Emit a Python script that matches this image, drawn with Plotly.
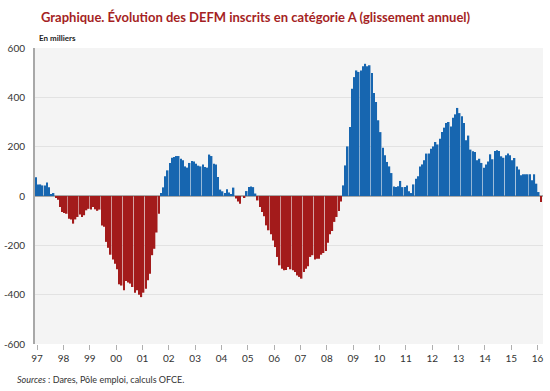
import plotly.graph_objects as go

# Monthly year-on-year change of category A jobseekers (thousands), Jan 1997 onwards
values = [
    76, 47, 47, 43, 43, 55, 35, 7, 12, -5,
    -15, -45, -65, -69, -72, -92, -95, -112, -95, -85,
    -75, -85, -78, -58, -52, -55, -45, -54, -60, -55,
    -120, -125, -186, -210, -238, -257, -275, -297, -358, -363,
    -382, -345, -351, -355, -369, -392, -382, -400, -410, -392,
    -376, -342, -315, -240, -214, -148, -72, 12, 35, 80,
    104, 134, 155, 158, 162, 162, 151, 145, 120, 115,
    134, 142, 140, 131, 123, 120, 128, 118, 115, 168,
    162, 131, 128, 77, 26, 19, 12, 27, 14, 5,
    34, -10, -22, -31, 0, -8, 20, 36, 39, 36,
    10, -18, -45, -65, -82, -119, -139, -155, -180, -207,
    -247, -281, -295, -301, -300, -288, -297, -301, -308, -322,
    -328, -335, -308, -295, -285, -247, -240, -257, -254, -254,
    -238, -231, -223, -190, -155, -142, -105, -85, -61, -22,
    43, 124, 201, 280, 435, 482, 509, 503, 509, 526,
    536, 526, 530, 499, 418, 381, 307, 259, 196, 165,
    138, 120, 93, 39, 36, 40, 61, 36, 36, 43,
    19, 12, 47, 70, 80, 120, 128, 145, 172, 172,
    192, 201, 219, 209, 232, 259, 277, 296, 300, 282,
    317, 331, 357, 336, 323, 296, 226, 245, 188, 181,
    178, 145, 151, 134, 115, 128, 140, 169, 149, 182,
    185, 182, 161, 155, 165, 172, 165, 145, 154, 120,
    107, 84, 88, 88, 88, 88, 64, 88, 50, 16,
    -24,
]
year_labels = ["97", "98", "99", "00", "01", "02", "03", "04", "05", "06",
               "07", "08", "09", "10", "11", "12", "13", "14", "15", "16"]
y_ticks = [-600, -400, -200, 0, 200, 400, 600]

BLUE = "#1766b0"
RED = "#a31b1b"

months = list(range(len(values)))
colors = [BLUE if v >= 0 else RED for v in values]

W, H = 550, 391
L, R, T, B = 35, 7, 48, 47
pw, ph = W - L - R, H - T - B


def px(x):
    return (x - L) / pw


def py(y):
    return (H - B - y) / ph


fig = go.Figure(go.Bar(x=months, y=values, marker=dict(color=colors, line=dict(width=0)),
                       hoverinfo="x+y"))

fig.update_layout(
    width=W, height=H,
    margin=dict(l=L, r=R, t=T, b=B, autoexpand=False),
    paper_bgcolor="white",
    plot_bgcolor="#f4f4f4",
    bargap=0.3,
    showlegend=False,
    font=dict(family="Lato, Open Sans, sans-serif", color="#333333"),
    xaxis=dict(
        range=[-0.46, 230.95],
        tickvals=[12 * k + 0.5 for k in range(len(year_labels))],
        ticktext=year_labels,
        ticks="outside", ticklen=5, tickcolor="#b0b0b0", tickwidth=1,
        showgrid=False, zeroline=False, showline=False, automargin=False,
        tickfont=dict(size=10, color="#333333"),
    ),
    yaxis=dict(
        range=[-600, 600],
        tickvals=y_ticks,
        ticktext=[str(v) for v in y_ticks],
        showgrid=True, gridcolor="#e2e2e2", gridwidth=1,
        zeroline=True, zerolinecolor="#a8a8a8", zerolinewidth=1.5,
        showline=True, linecolor="#a8a8a8", linewidth=2, automargin=False,
        ticks="", ticklabelstandoff=6,
        tickfont=dict(size=10, color="#333333"),
    ),
    annotations=[
        dict(text="<b>Graphique. Évolution des DEFM inscrits en catégorie A (glissement annuel)</b>",
             xref="paper", yref="paper", x=px(256), y=py(17), xanchor="center", yanchor="middle",
             showarrow=False, font=dict(size=13, color="#a51f24", family="Lato, Open Sans, sans-serif")),
        dict(text="<b>En milliers</b>",
             xref="paper", yref="paper", x=px(37), y=py(38), xanchor="left", yanchor="middle",
             showarrow=False, font=dict(size=8, color="#222222")),
        dict(text="<i>Sources</i> : Dares, Pôle emploi, calculs OFCE.",
             xref="paper", yref="paper", x=px(15), y=py(379), xanchor="left", yanchor="middle",
             showarrow=False, font=dict(size=9, color="#333333")),
    ],
)

fig.write_html(
    "out.html",
    config={"displayModeBar": False},
    post_script="document.body.style.margin='0';document.body.style.overflow='hidden';",
)
